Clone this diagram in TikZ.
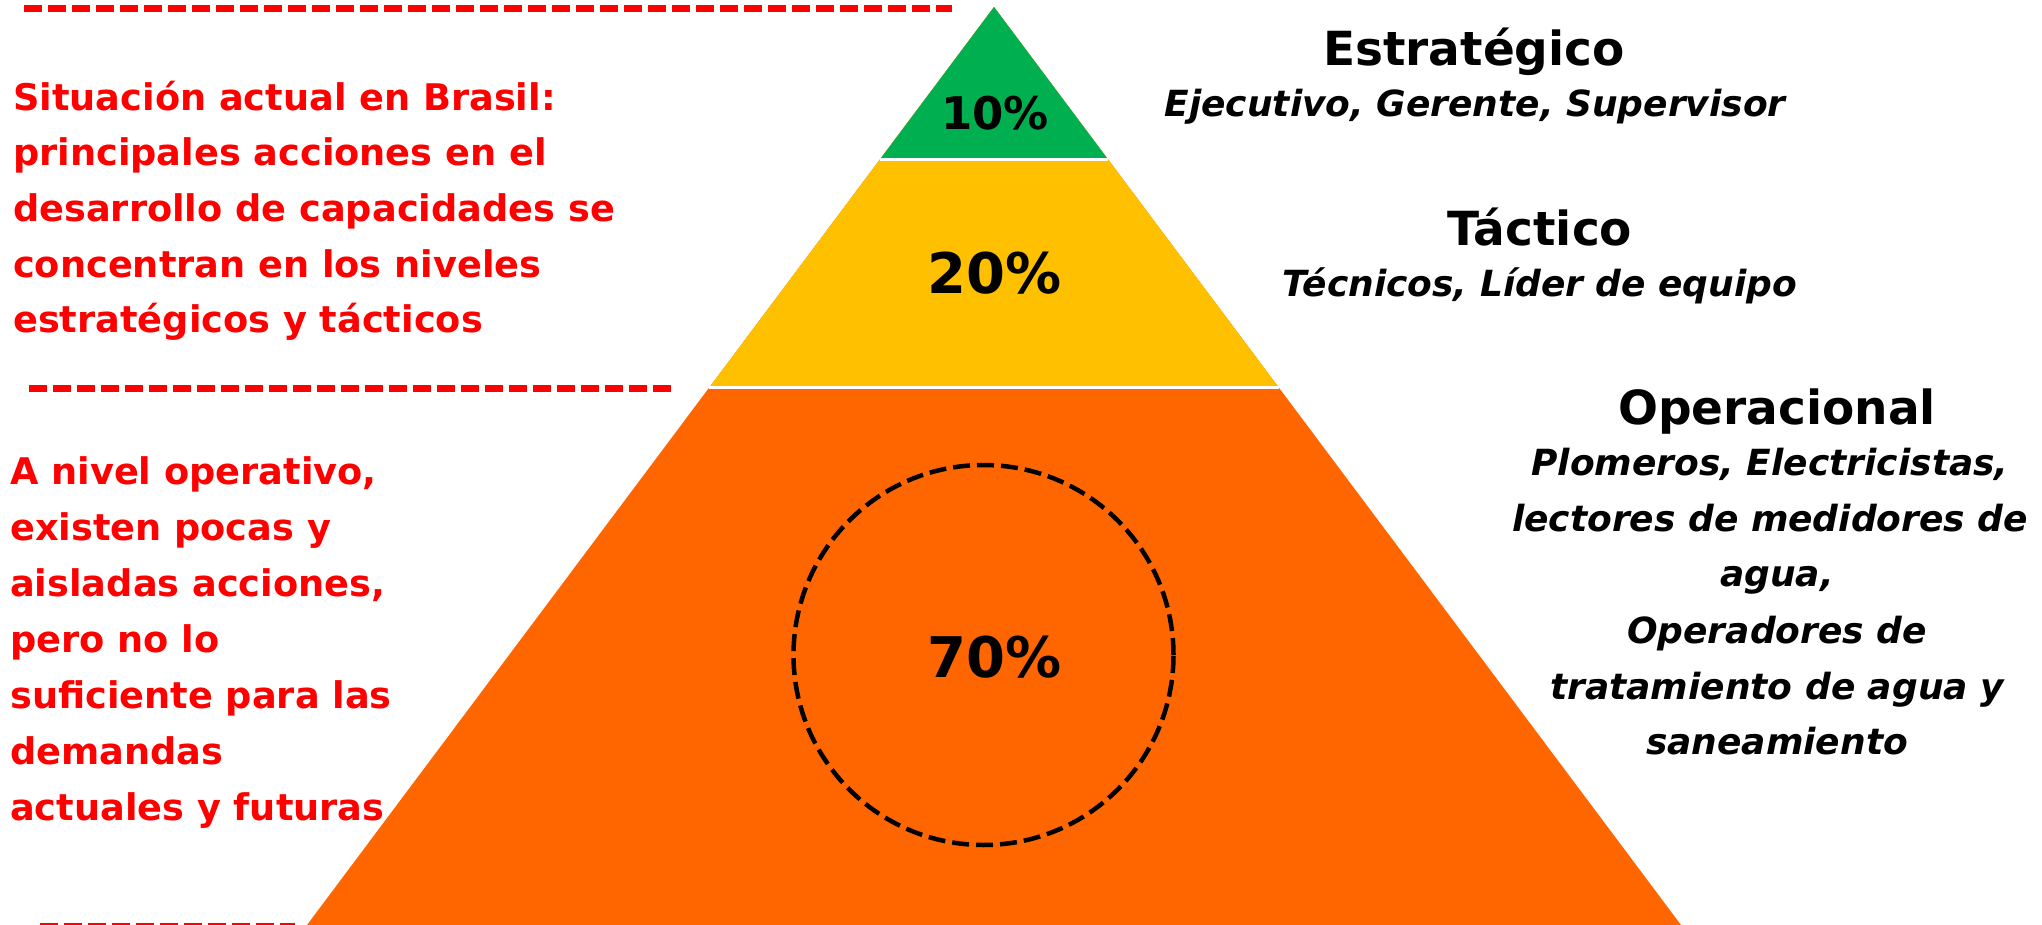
\documentclass[tikz,border=0pt]{standalone}
\usepackage{fontspec}
\setmainfont{DejaVu Sans}
\definecolor{pgreen}{HTML}{00B050}
\definecolor{pyellow}{HTML}{FFC000}
\definecolor{porange}{HTML}{FF6600}
\definecolor{pred}{HTML}{FF0000}
\tikzset{
  reddash/.style={draw=pred, line width=7pt, dash pattern=on 17.7pt off 6.3pt},
  redtxt/.style={anchor=base west, inner sep=0pt, text=pred, font=\fontsize{36.7}{44}\selectfont\bfseries},
  ttl/.style={anchor=base, inner sep=0pt, font=\fontsize{47}{56}\selectfont\bfseries},
  sub/.style={anchor=base, inner sep=0pt, font=\fontsize{36}{44}\selectfont\bfseries\itshape},
  pct/.style={inner sep=0pt, font=\bfseries},
  sep/.style={draw=white, line width=3pt}
}
\begin{document}
\begin{tikzpicture}[x=1pt,y=-1pt]
\useasboundingbox (0,0) rectangle (2042,925);
% pyramid
\coordinate (apex) at (994,7);
\coordinate (gl) at (879.9,159.5);
\coordinate (gr) at (1108.1,159.5);
\coordinate (yl) at (709.2,387.5);
\coordinate (yr) at (1278.8,387.5);
\coordinate (bl) at (307,925);
\coordinate (br) at (1681,925);
\fill[porange] (apex) -- (bl) -- (br) -- cycle;
\fill[pyellow] (apex) -- (yl) -- (yr) -- cycle;
\fill[pgreen] (apex) -- (gl) -- (gr) -- cycle;
\draw[sep] (gl) -- (gr);
\draw[sep] (yl) -- (yr);
% percentages
\node[pct, font=\fontsize{45}{45}\selectfont\bfseries] (p10) at (995,113) {10\%};
\node[pct, font=\fontsize{56}{56}\selectfont\bfseries] (p20) at (995,273) {20\%};
\node[pct, font=\fontsize{56}{56}\selectfont\bfseries] (p70) at (995,657) {70\%};
\node[circle, draw=black, line width=4.5pt, dash pattern=on 17pt off 7pt, minimum size=380pt, inner sep=0pt] (ring) at (983.5,655) {};
% red dashed lines
\coordinate (d1a) at (24,9);
\coordinate (d1b) at (952,9);
\coordinate (d2a) at (29,388);
\coordinate (d2b) at (671,388);
\coordinate (d3a) at (40,926);
\coordinate (d3b) at (295,926);
\draw[reddash] (d1a) -- (d1b);
\draw[reddash] (d2a) -- (d2b);
\draw[reddash] (d3a) -- (d3b);
% red text block 1
\node[redtxt] (a1) at (13,111) {Situación actual en Brasil:};
\node[redtxt] (a2) at (13,166) {principales acciones en el};
\node[redtxt] (a3) at (13,222) {desarrollo de capacidades se};
\node[redtxt] (a4) at (13,277) {concentran en los niveles};
\node[redtxt] (a5) at (13,332) {estratégicos y tácticos};
% red text block 2
\node[redtxt] (b1) at (10,484) {A nivel operativo,};
\node[redtxt] (b2) at (10,540) {existen pocas y};
\node[redtxt] (b3) at (10,596) {aisladas acciones,};
\node[redtxt] (b4) at (10,652) {pero no lo};
\node[redtxt] (b5) at (10,708) {suficiente para las};
\node[redtxt] (b6) at (10,764) {demandas};
\node[redtxt] (b7) at (10,820) {actuales y futuras};
% right labels
\node[ttl] (t1) at (1474,66) {Estratégico};
\node[sub] (s1) at (1475,117) {Ejecutivo, Gerente, Supervisor};
\node[ttl] (t2) at (1540,246) {Táctico};
\node[sub] (s2) at (1540,296) {Técnicos, Líder de equipo};
\node[ttl] (t3) at (1777,424) {Operacional};
\node[sub] (o1) at (1770,475) {Plomeros, Electricistas,};
\node[sub] (o2) at (1770,531) {lectores de medidores de};
\node[sub] (o3) at (1777,586) {agua,};
\node[sub] (o4) at (1777,643) {Operadores de};
\node[sub] (o5) at (1777,699) {tratamiento de agua y};
\node[sub] (o6) at (1777,754) {saneamiento};
\end{tikzpicture}
\end{document}
